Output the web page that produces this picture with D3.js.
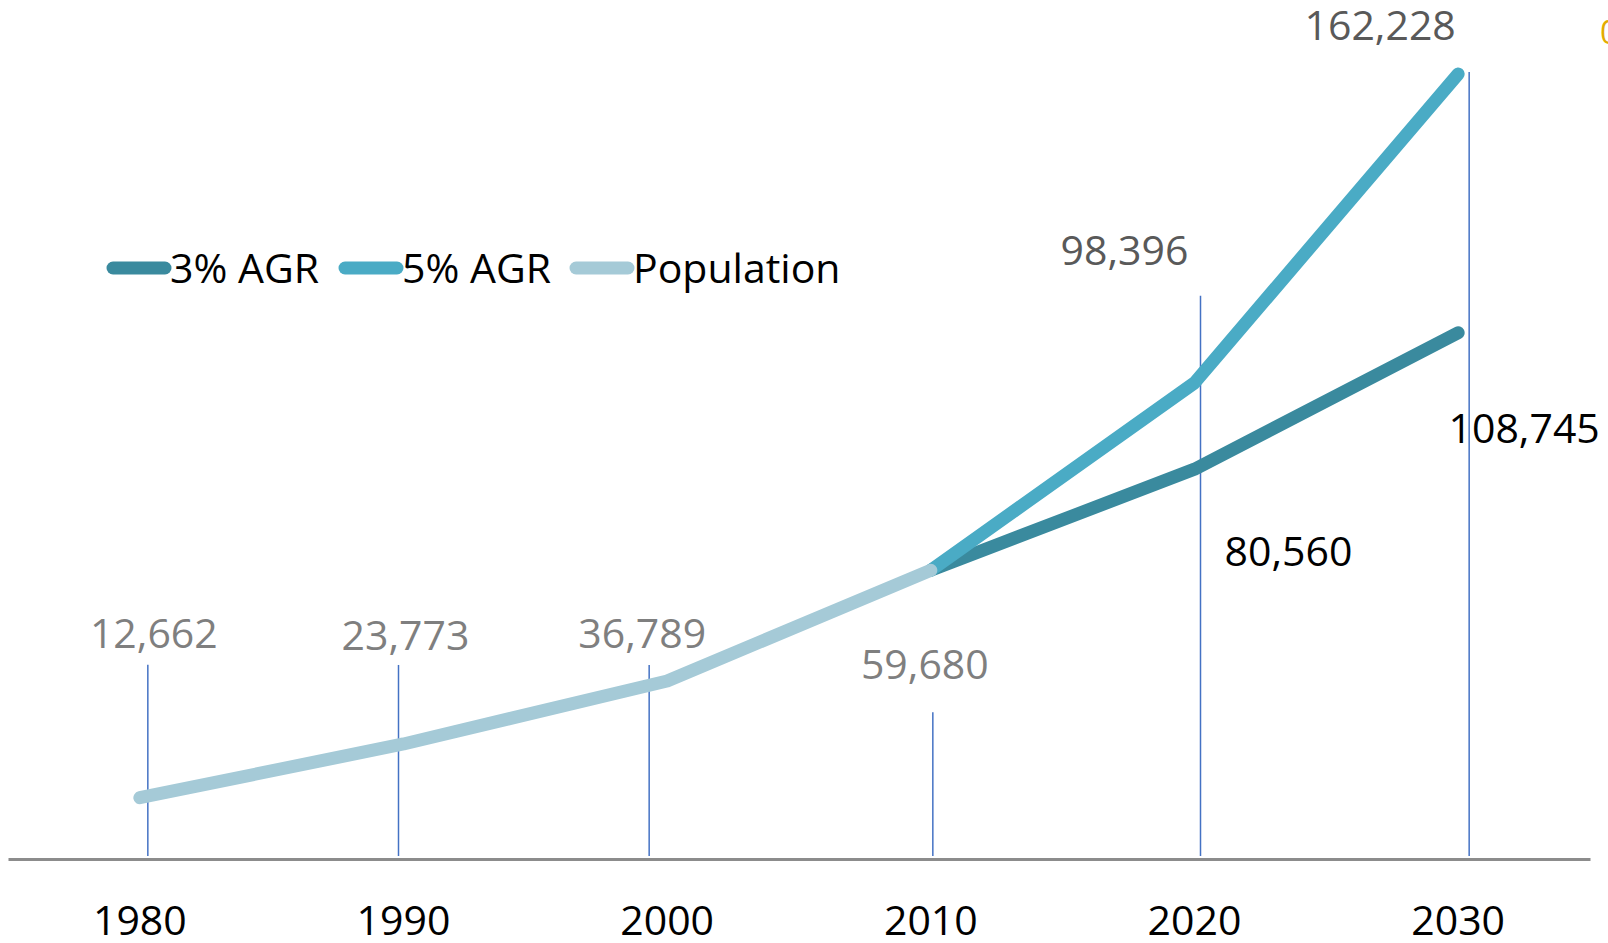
<!DOCTYPE html>
<html>
<head>
<meta charset="utf-8">
<script src="https://cdnjs.cloudflare.com/ajax/libs/d3/7.8.5/d3.min.js"></script>
<style>
  html, body { margin: 0; padding: 0; background: #fff; overflow: hidden; }
  svg { display: block; font-family: "Open Sans", sans-serif; }
</style>
</head>
<body>
<svg id="stage" width="1608" height="943"></svg>
<script>
var svg = d3.select("#stage");

// data
var years = ["1980", "1990", "2000", "2010", "2020", "2030"];
var popYears = ["1980", "1990", "2000", "2010"];
var popValues = [12662, 23773, 36789, 59680];
var agrYears = ["2010", "2020", "2030"];
var agr3Values = [59680, 80560, 108745];
var agr5Values = [59680, 98396, 162228];
var seriesNames = ["3% AGR", "5% AGR", "Population"];

var colors = { "3% AGR": "#3a8a9e", "5% AGR": "#4aabc5", "Population": "#a5cad7" };

var series = [
  { name: "3% AGR", points: agrYears.map(function(y, i){ return { year: y, value: agr3Values[i] }; }) },
  { name: "5% AGR", points: agrYears.map(function(y, i){ return { year: y, value: agr5Values[i] }; }) },
  { name: "Population", points: popYears.map(function(y, i){ return { year: y, value: popValues[i] }; }) }
];

// scales
var x = d3.scaleBand().domain(years).range([8, 1590]).padding(0);
var y = d3.scaleLinear().domain([0, 180000]).range([859, -12]);
var cx = function(yr){ return x(yr) + x.bandwidth() / 2; };
var fmt = d3.format(",");

// x axis
var xAxis = d3.axisBottom(x).tickSize(0).tickPadding(0);
var gx = svg.append("g").attr("transform", "translate(0," + y(0) + ")").call(xAxis);
gx.select(".domain").attr("stroke", "#8c8c8c").attr("stroke-width", 3);
gx.selectAll(".tick text")
  .attr("y", 0).attr("dy", 76)
  .attr("font-family", "Open Sans, sans-serif")
  .attr("font-size", 41)
  .attr("fill", "#000");

// data labels (manually placed, like the original) -- offsets from the point
var labelLayout = [
  { s: "Population", year: "1980", dx: 14,  dy: -150, lx: 8,   gap: 17, fill: "#7f7f7f" },
  { s: "Population", year: "1990", dx: 2,   dy: -94,  lx: -5,  gap: 15, fill: "#7f7f7f" },
  { s: "Population", year: "2000", dx: -25, dy: -33,  lx: -18, gap: 17, fill: "#7f7f7f" },
  { s: "Population", year: "2010", dx: -6,  dy: 109,  lx: 2,   gap: 33, fill: "#7f7f7f" },
  { s: "5% AGR",     year: "2020", dx: -70, dy: -118, lx: 6,   gap: 31, fill: "#595959" },
  { s: "5% AGR",     year: "2030", dx: -78, dy: -34,  lx: 11,  gap: 32, fill: "#595959" },
  { s: "3% AGR",     year: "2020", dx: 94,  dy: 97,   lx: null, fill: "#000" },
  { s: "3% AGR",     year: "2030", dx: 66,  dy: 110,  lx: null, fill: "#000" }
];

var findValue = function(name, yr){
  var s = series.filter(function(d){ return d.name === name; })[0];
  return s.points.filter(function(p){ return p.year === yr; })[0].value;
};

labelLayout.forEach(function(l){
  l.value = findValue(l.s, l.year);
  l.tx = cx(l.year) + l.dx;
  l.ty = y(l.value) + l.dy;
});

// leader lines
svg.append("g").selectAll("line")
  .data(labelLayout.filter(function(l){ return l.lx !== null; }))
  .enter().append("line")
    .attr("x1", function(l){ return cx(l.year) + l.lx; })
    .attr("x2", function(l){ return cx(l.year) + l.lx; })
    .attr("y1", function(l){ return l.ty + l.gap; })
    .attr("y2", y(0) - 3)
    .attr("stroke", "#4472c4")
    .attr("stroke-width", 1.5);

// lines
var line = d3.line()
  .x(function(d){ return cx(d.year); })
  .y(function(d){ return y(d.value); });

svg.append("g").selectAll("path")
  .data(series)
  .enter().append("path")
    .attr("d", function(d){ return line(d.points); })
    .attr("fill", "none")
    .attr("stroke", function(d){ return colors[d.name]; })
    .attr("stroke-width", 13)
    .attr("stroke-linecap", "round")
    .attr("stroke-linejoin", "round");

// label text
svg.append("g").selectAll("text")
  .data(labelLayout)
  .enter().append("text")
    .attr("x", function(l){ return l.tx; })
    .attr("y", function(l){ return l.ty; })
    .attr("text-anchor", "middle")
    .attr("font-size", 41)
    .attr("fill", function(l){ return l.fill; })
    .text(function(l){ return fmt(l.value); });

// legend
var legendX = [113, 345, 576];
var legend = svg.append("g").attr("transform", "translate(0,268)");
var items = legend.selectAll("g").data(seriesNames).enter().append("g")
  .attr("transform", function(d, i){ return "translate(" + legendX[i] + ",0)"; });
items.append("line")
  .attr("x1", 0).attr("x2", 52)
  .attr("stroke", function(d){ return colors[d]; })
  .attr("stroke-width", 13)
  .attr("stroke-linecap", "round");
items.append("text")
  .attr("x", 57).attr("y", 15)
  .attr("font-size", 41)
  .attr("fill", "#000")
  .text(function(d){ return d; });

// stray clipped mark at the top right corner
svg.append("text")
  .attr("x", 1600).attr("y", 44)
  .attr("font-size", 32)
  .attr("fill", "#e3ac00")
  .text("0");
</script>
</body>
</html>
